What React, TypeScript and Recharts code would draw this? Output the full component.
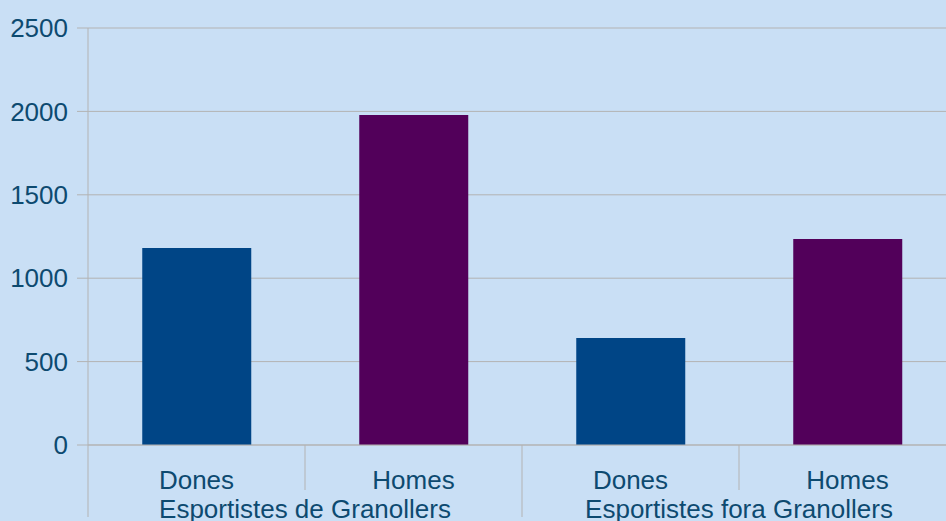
import React from "react";
import { BarChart, Bar, XAxis, YAxis, CartesianGrid, Cell } from "recharts";

const categories = ["Dones", "Homes", "Dones", "Homes"];
const groups = ["Esportistes de Granollers", "Esportistes fora Granollers"];
const values = [1181, 1978, 641, 1235];
const yTicks = [0, 500, 1000, 1500, 2000, 2500];
const colors = ["#004586", "#52005a", "#004586", "#52005a"];

const data = categories.map((c, i) => ({
  key: `k${i}`,
  label: c,
  group: groups[Math.floor(i / 2)],
  value: values[i],
}));

const TEXT = "#0d4a70";
const GRID = "#b3b3b3";
const FONT = "'Liberation Sans', Arial, sans-serif";
const FS = 26;
const HALF = 108.5;

const XTick = (props: any) => {
  const { x, y, index } = props;
  const row = data[index];
  if (!row) return null;
  const outer = index % 2 === 0;
  return (
    <g>
      <line
        x1={x - HALF}
        x2={x - HALF}
        y1={y}
        y2={outer ? y + 72 : y + 45}
        stroke={GRID}
        strokeWidth={1}
      />
      <text
        x={x}
        y={y + 44}
        textAnchor="middle"
        fill={TEXT}
        fontSize={FS}
        fontFamily={FONT}
      >
        {row.label}
      </text>
      {outer && (
        <text
          x={x + HALF}
          y={y + 73}
          textAnchor="middle"
          fill={TEXT}
          fontSize={FS}
          fontFamily={FONT}
        >
          {row.group}
        </text>
      )}
    </g>
  );
};

export default function App() {
  return (
    <div
      style={{
        position: "absolute",
        left: 0,
        top: 0,
        width: 946,
        height: 521,
        overflow: "hidden",
        background: "#c9dff5",
      }}
    >
      <BarChart
        width={966}
        height={521}
        data={data}
        margin={{ top: 28, right: 10, left: 0, bottom: 0 }}
        barCategoryGap="25%"
      >
        <CartesianGrid horizontal vertical={false} stroke={GRID} strokeWidth={1} />
        <XAxis
          dataKey="key"
          height={76}
          tickSize={0}
          tickMargin={0}
          axisLine={{ stroke: GRID }}
          tickLine={false}
          interval={0}
          tick={<XTick />}
        />
        <YAxis
          width={88}
          domain={[0, 2500]}
          ticks={yTicks}
          interval={0}
          tickSize={11}
          tickMargin={9}
          axisLine={{ stroke: GRID }}
          tickLine={{ stroke: GRID }}
          tick={{ fill: TEXT, fontSize: FS, fontFamily: FONT }}
        />
        <Bar dataKey="value" isAnimationActive={false}>
          {data.map((d, i) => (
            <Cell key={d.key} fill={colors[i]} />
          ))}
        </Bar>
      </BarChart>
    </div>
  );
}
